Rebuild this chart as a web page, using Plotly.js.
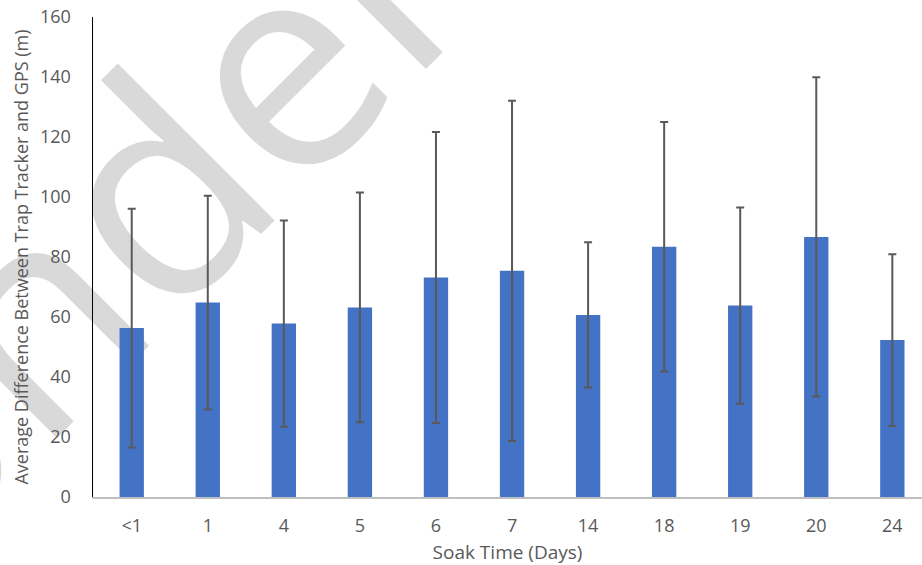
<!DOCTYPE html>
<html>
<head>
<meta charset="utf-8">
<script src="https://cdn.plot.ly/plotly-3.0.1.min.js"></script>
<style>
  html, body { margin: 0; padding: 0; background: #ffffff; }
  #wrap { position: relative; width: 922px; height: 565px; overflow: hidden; }
  #wm { position: absolute; left: 0; top: 0; z-index: 0; }
  #chart { position: absolute; left: 0; top: 0; width: 922px; height: 565px; z-index: 1; }
</style>
</head>
<body>
<div id="wrap">
  <svg id="wm" width="922" height="565" xmlns="http://www.w3.org/2000/svg">
    <text x="-470" y="350" transform="rotate(-45)" font-family="Open Sans" font-size="292" fill="#d9d9d9">ondel</text>
  </svg>
  <div id="chart"></div>
</div>
<script>
// Data
const categories = ["<1", "1", "4", "5", "6", "7", "14", "18", "19", "20", "24"];
const meanDiff   = [56.3, 64.8, 57.8, 63.2, 73.2, 75.4, 60.7, 83.4, 63.8, 86.7, 52.3];
const errDiff    = [39.8, 35.6, 34.4, 38.3, 48.5, 56.7, 24.2, 41.6, 32.7, 53.2, 28.6];
const yTicks     = [0, 20, 40, 60, 80, 100, 120, 140, 160];

const textColor = "#595959";
const fontFam = "'Open Sans', 'Noto Sans', sans-serif";

const trace = {
  type: "bar",
  x: categories,
  y: meanDiff,
  marker: { color: "#4472C4", line: { width: 0 } },
  error_y: {
    type: "data",
    array: errDiff,
    visible: true,
    color: "#595959",
    thickness: 2,
    width: 4
  },
  hoverinfo: "none"
};

const layout = {
  width: 922,
  height: 565,
  margin: { l: 93, r: 0, t: 17, b: 68, pad: 0 },
  paper_bgcolor: "rgba(0,0,0,0)",
  plot_bgcolor: "rgba(0,0,0,0)",
  bargap: 0.68,
  showlegend: false,
  font: { family: fontFam, color: textColor, size: 18 },
  xaxis: {
    type: "category",
    range: [-0.509, 10.39],
    showline: true,
    linecolor: "#bfbfbf",
    linewidth: 1.5,
    showgrid: false,
    zeroline: false,
    ticks: "",
    ticklabelstandoff: 12,
    tickfont: { family: fontFam, size: 18, color: textColor },
    title: { text: "Soak Time (Days)", font: { family: fontFam, size: 19, color: textColor }, standoff: 18 },
    fixedrange: true
  },
  yaxis: {
    range: [0, 160],
    tickvals: yTicks,
    ticktext: yTicks.map(String),
    showline: true,
    linecolor: "#000000",
    linewidth: 1.5,
    showgrid: false,
    zeroline: false,
    ticks: "",
    ticklabelstandoff: 17,
    tickfont: { family: fontFam, size: 18, color: textColor },
    title: { text: "Average Difference Between Trap Tracker and GPS (m)", font: { family: fontFam, size: 18, color: textColor }, standoff: 6 },
    fixedrange: true
  }
};

Plotly.newPlot("chart", [trace], layout, { displayModeBar: false, staticPlot: true });
</script>
</body>
</html>
